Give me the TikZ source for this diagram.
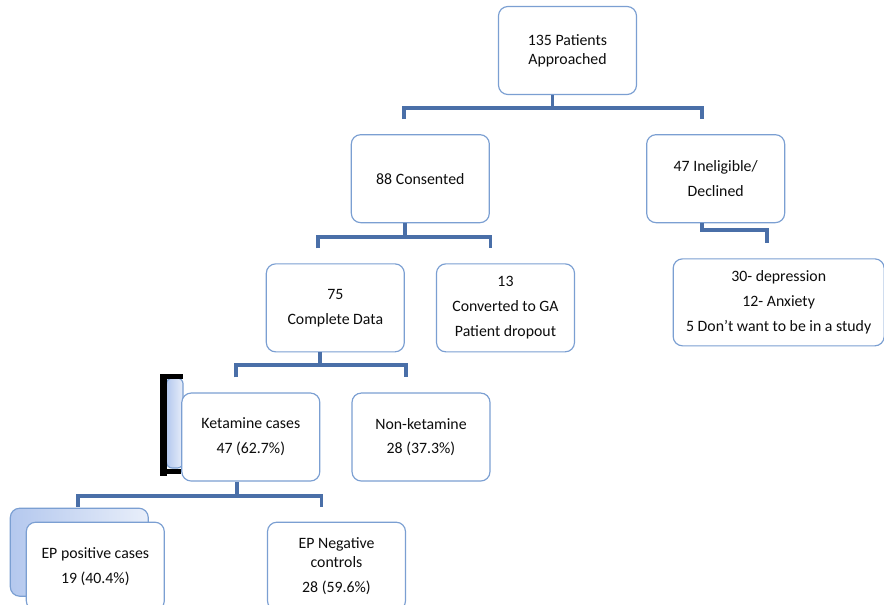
\documentclass[tikz,border=0pt]{standalone}
\usepackage{fontspec}
\setmainfont{Carlito}
\usepackage{tikz}
\usetikzlibrary{
positioning,
calc,
backgrounds
}
\definecolor{flowedge}{HTML}{7B9FD2}
\definecolor{flowlink}{HTML}{4A6FA8}
\definecolor{flowshade}{HTML}{B4C8EE}
\definecolor{flowtext}{HTML}{0D0D0D}

\begin{document}
\begin{tikzpicture}[
  x=0.03cm, y=-0.03cm,
  box/.style={draw=flowedge, line width=1pt, fill=white, rounded corners=8pt, minimum width=4.14cm, minimum height=2.64cm, align=center, inner sep=2pt, text=flowtext, font=\fontsize{13.5}{16.2}\selectfont},
  ghost/.style={draw=flowedge, line width=1pt, rounded corners=8pt, minimum width=4.14cm, minimum height=2.64cm, left color=flowshade, right color=flowshade!30!white},
  link/.style={draw=flowlink, line width=3.4pt}
]
\useasboundingbox (0,0) rectangle (884,604);

% Top
\node[box] (top) at (567.5,50.5) {135 Patients\\Approached};

% Second row
\node[box, below left=1.17cm and 0.24cm of top] (cons) {88 Consented};
\node[box, below right=1.17cm and 0.27cm of top] (inel) {47 Ineligible/\\[5pt]Declined};

% Third row
\node[box, below=1.2cm of cons, xshift=-2.55cm] (comp) {75\\[5pt]Complete Data};
\node[box, right=0.93cm of comp] (conv) {13\\[5pt]Converted to GA\\[5pt]Patient dropout};
\node[box, minimum width=6.33cm, minimum height=2.61cm, below=1.05cm of inel, xshift=1.89cm] (reas) {30- depression\\[5pt]12- Anxiety\\[5pt]5 Don't want to be in a study};

% Fourth row
\node[box, below=1.2cm of comp, xshift=-2.535cm] (ket) {Ketamine cases\\[5pt]47 (62.7\%)};
\node[box, right=0.93cm of ket] (nonk) {Non-ketamine\\[5pt]28 (37.3\%)};

% Bottom row
\node[box, below=1.2cm of ket, xshift=-4.665cm] (epp) {EP positive cases\\[5pt]19 (40.4\%)};
\node[box, right=3.06cm of epp] (epn) {EP Negative\\controls\\[5pt]28 (59.6\%)};

% Stacked copies behind
\begin{scope}[on background layer]
\node[ghost, minimum width=0.5cm, minimum height=2.7cm, rounded corners=5pt] (ketshade) at ($(ket.west)+(-6.5,-14)$) {};
\node[ghost] (eppshade) at ($(epp)+(-16,-14)$) {};
\end{scope}

% Bracket
\draw[line width=0.13cm] ($(ket.north west)+(-21,-16)$) -- ($(ket.north west)+(2,-16)$);
\draw[line width=0.13cm] ($(ket.south west)+(-21,-10)$) -- ($(ket.south west)+(0,-10)$);
\draw[line width=0.21cm] ($(ket.north west)+(-17.5,-18)$) -- ($(ket.south west)+(-17.5,-6)$);

% Connectors
\draw[link] ($(top.south)+(-15,0)$) -- ++(0,13);
\draw[link] ($(cons.north)+(-16,-15)$) |- ($(inel.north)+(-14,-26)$) -- ($(inel.north)+(-14,-15)$);
\draw[link] ($(cons.south)+(-15,0)$) -- ++(0,14);
\draw[link] ($(comp.north)+(-17,-15)$) |- ($(conv.north)+(-15,-26)$) -- ($(conv.north)+(-15,-15)$);
\draw[link] ($(inel.south)+(-14,0)$) |- ($(reas.north)+(-12,-28)$) -- ($(reas.north)+(-12,-15)$);
\draw[link] ($(comp.south)+(-15,0)$) -- ++(0,13);
\draw[link] ($(ket.north)+(-15,-15)$) |- ($(nonk.north)+(-15,-27)$) -- ($(nonk.north)+(-15,-15)$);
\draw[link] ($(ket.south)+(-14,0)$) -- ++(0,14);
\draw[link] ($(epp.north)+(-17,-15)$) |- ($(epn.north)+(-15,-26)$) -- ($(epn.north)+(-15,-15)$);

\end{tikzpicture}
\end{document}
